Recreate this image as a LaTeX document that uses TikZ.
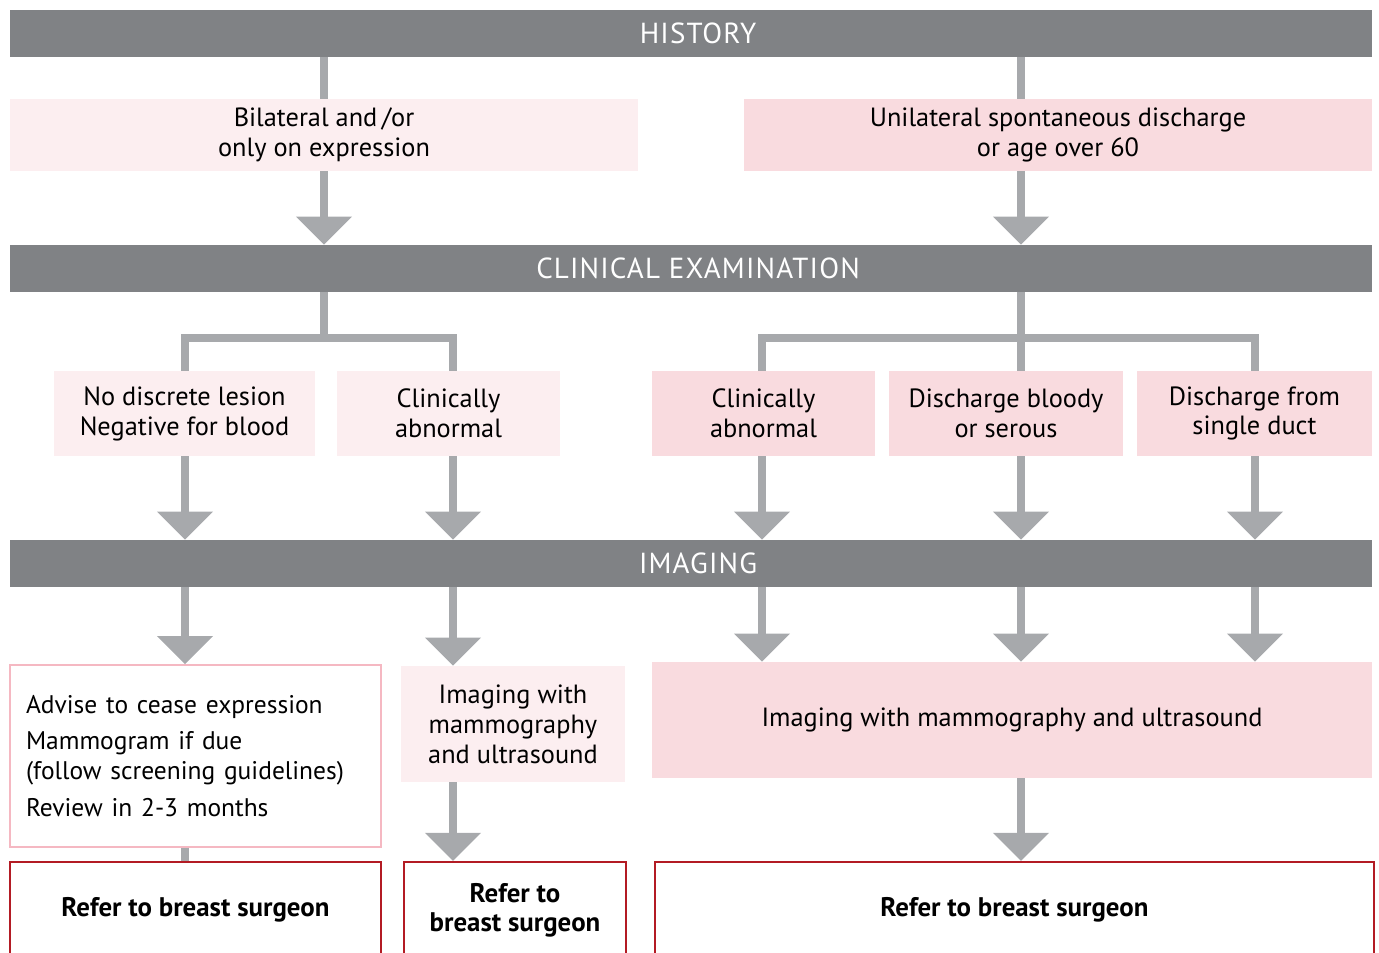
\documentclass[tikz,border=0pt]{standalone}
\usepackage{fontspec}
\setmainfont{PT Sans}
\usepackage{tikz}
\usetikzlibrary{arrows.meta}

\definecolor{barg}{HTML}{808285}
\definecolor{lineg}{HTML}{A7A9AC}
\definecolor{palepink}{HTML}{FCEEF0}
\definecolor{midpink}{HTML}{F9DBDF}
\definecolor{rimpink}{HTML}{F5B8C2}
\definecolor{referred}{HTML}{B31B24}

\begin{document}
\begin{tikzpicture}[x=0.02cm,y=-0.02cm,
        every node/.style={font=\fontsize{15}{17}\selectfont,align=center,inner sep=0pt},
        bar/.style={fill=barg,text=white,minimum width=27.24cm,minimum height=0.94cm,
            font=\fontsize{16.5}{20}\selectfont\addfontfeature{LetterSpace=4},
            execute at begin node=\hspace*{8pt}},
        pale/.style={fill=palepink,minimum height=1.7cm},
        rose/.style={fill=midpink,minimum height=1.7cm},
        refer/.style={draw=referred,line width=1.2pt,minimum height=1.92cm,
            font=\fontsize{15.3}{16.5}\selectfont\bfseries},
        conn/.style={draw=lineg,line width=0.16cm},
        arr/.style={conn,-{Triangle[width=31pt,length=16pt]},color=lineg}]
            \useasboundingbox (0,0) rectangle (1379,953);
            \coordinate (cA) at (185,0);
            \coordinate (cB) at (453,0);
            \coordinate (cC) at (762,0);
            \coordinate (cD) at (1021,0);
            \coordinate (cE) at (1255,0);
            \coordinate (jl) at (324,338);
            \coordinate (jr) at (1021,338);
            \node[bar] at (691,33.5) (hist) {HISTORY};
            \node[bar] at (691,268.5) (clin) {CLINICAL EXAMINATION};
            \node[bar] at (691,563.5) (imag) {IMAGING};
            \node[pale,minimum width=12.56cm,minimum height=1.44cm] at (324,135) (bil) {Bilateral and\,/or\\only on expression};
            \node[rose,minimum width=12.56cm,minimum height=1.44cm] at (1058,135) (uni) {Unilateral spontaneous discharge\\or age over 60};
            \node[pale,minimum width=5.22cm] at (184.5,413.5) (nd) {No discrete lesion\\Negative for blood};
            \node[pale,minimum width=4.46cm] at (448.5,413.5) (cal) {Clinically\\abnormal};
            \node[rose,minimum width=4.46cm] at (763.5,413.5) (car) {Clinically\\abnormal};
            \node[rose,minimum width=4.68cm] at (1006,413.5) (db) {Discharge bloody\\or serous};
            \node[rose,minimum width=4.7cm] at (1254.5,413.5) (sd) {Discharge from\\single duct};
            \node[draw=rimpink,line width=1pt,fill=white,minimum width=7.42cm,minimum height=3.64cm,
                text width=6.78cm,align=left] at (195.5,756) (adv)
                {\fontsize{14.5}{17}\selectfont Advise to cease expression\\[4pt]Mammogram if due\\(follow screening guidelines)\\[4pt]Review in 2-3 months\par\vspace*{6pt}};
            \node[pale,minimum width=4.48cm,minimum height=2.32cm] at (513,724) (iml) {Imaging with\\mammography\\and ultrasound};
            \node[rose,minimum width=14.4cm,minimum height=2.32cm] at (1012,720) (imr) {Imaging with mammography and ultrasound};
            \node[refer,minimum width=7.42cm] at (195.5,910) (ref1) {Refer to breast surgeon};
            \node[refer,minimum width=4.44cm] at (515,910) (ref2) {Refer to\\breast surgeon};
            \node[refer,minimum width=14.38cm] at (1014.5,910) (ref3) {Refer to breast surgeon};
            \draw[conn] (hist.south -| bil) to (bil.north);
            \draw[conn] (hist.south -| cD) to (cD |- uni.north);
            \draw[arr] (bil.south) to (bil.south |- clin.north);
            \draw[arr] (cD |- uni.south) to (cD |- clin.north);
            \draw[conn] (clin.south -| jl) to (jl);
            \draw[conn] (clin.south -| jr) to (cD |- db.north);
            \draw[conn] (cA |- nd.north) |- (cB |- jl) to (cB |- cal.north);
            \draw[conn] (cC |- car.north) |- (cE |- jr) to (cE |- sd.north);
            \foreach \c/\n in {cA/nd,cB/cal,cC/car,cD/db,cE/sd}
                \draw[arr] (\c |- \n.south) to (\c |- imag.north);
            \draw[arr] (cA |- imag.south) to (cA |- adv.north);
            \draw[arr] (cB |- imag.south) to (cB |- iml.north);
            \foreach \c in {cC,cD,cE}
                \draw[arr] (\c |- imag.south) to (\c |- imr.north);
            \draw[conn] (cA |- adv.south) to (cA |- ref1.north);
            \draw[arr] (cB |- iml.south) to (cB |- ref2.north);
            \draw[arr] (cD |- imr.south) to (cD |- ref3.north);
        \end{tikzpicture}
\end{document}
